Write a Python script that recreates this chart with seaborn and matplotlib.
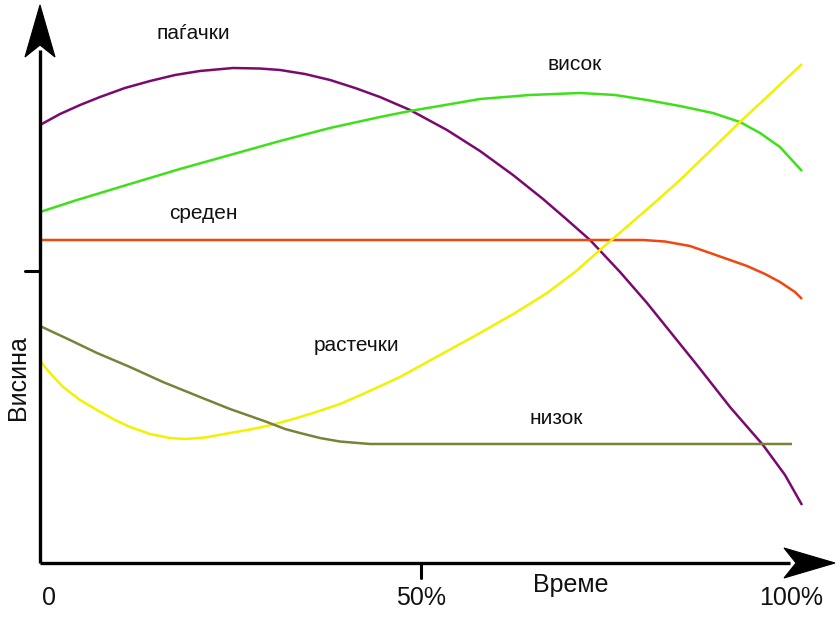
import matplotlib
matplotlib.use("Agg")
import matplotlib.pyplot as plt
from matplotlib.patches import Polygon
import seaborn as sns
import pandas as pd

# ---- data (time in %, height in relative units; tick at 50) ----
pad_x = [0, 2.62, 5.25, 7.87, 11.15, 14.44, 17.72, 21.0, 25.33, 28.87, 31.5, 34.78, 38.06, 41.34,
         44.62, 48.56, 53.41, 57.74, 62.07, 66.01, 68.9, 72.18, 76.12, 79.66, 82.94, 86.22, 90.55,
         94.88, 97.77, 100]
pad_y = [75.0, 76.88, 78.42, 79.79, 81.34, 82.53, 83.56, 84.25, 84.76, 84.67, 84.42, 83.73, 82.71, 81.34,
         79.79, 77.57, 74.14, 70.55, 66.44, 62.33, 59.08, 55.31, 49.83, 44.52, 39.21, 33.90, 26.71,
         20.21, 15.07, 9.93]

vis_x = [0, 4.86, 11.81, 18.37, 24.93, 31.5, 38.06, 44.62, 48.56, 53.15, 57.74, 64.30, 70.87, 75.46,
         79.66, 83.99, 88.32, 91.86, 94.49, 97.11, 100]
vis_y = [60.10, 62.16, 64.90, 67.47, 69.86, 72.26, 74.49, 76.37, 77.40, 78.42, 79.45, 80.14, 80.48, 80.14,
         79.28, 78.25, 77.05, 75.51, 73.63, 71.23, 67.12]

sre_x = [0, 79.13, 82.02, 85.30, 88.32, 92.78, 95.14, 97.11, 99.08, 100]
sre_y = [55.31, 55.31, 55.05, 54.28, 52.91, 50.86, 49.49, 48.12, 46.40, 45.21]

ras_x = [0, 1.31, 3.02, 5.25, 7.48, 9.84, 11.81, 14.44, 17.06, 19.03, 21.65, 24.93, 27.56, 29.79,
         32.81, 35.83, 39.37, 42.39, 47.24, 52.49, 57.74, 62.34, 66.54, 70.21, 73.49, 77.43, 81.36,
         83.99, 87.93, 91.86, 95.80, 100]
ras_y = [34.59, 32.53, 30.14, 27.91, 26.20, 24.49, 23.29, 22.09, 21.40, 21.23, 21.49, 22.26, 22.86, 23.46,
         24.49, 25.68, 27.23, 28.94, 31.85, 35.62, 39.38, 42.81, 46.23, 49.83, 53.60, 58.05, 62.50,
         65.58, 70.55, 75.51, 80.31, 85.45]

niz_x = [0, 3.94, 7.48, 11.81, 16.14, 21.0, 24.93, 27.56, 29.79, 32.15, 34.12, 36.75, 39.37, 43.31, 98.69]
niz_y = [40.58, 38.18, 35.96, 33.56, 30.99, 28.42, 26.37, 25.17, 24.14, 22.95, 22.26, 21.40, 20.80, 20.38, 20.38]

series_names = ["паѓачки", "висок", "среден", "растечки", "низок"]
series_colors = ["#7a0a6e", "#3ee01a", "#f0470f", "#f2f200", "#7a823a"]
x_ticks = [0, 50, 100]
x_tick_labels = ["0", "50%", "100%"]
x_label = "Време"
y_label = "Висина"

frames = []
for name, xs, ys in zip(series_names,
                        [pad_x, vis_x, sre_x, ras_x, niz_x],
                        [pad_y, vis_y, sre_y, ras_y, niz_y]):
    frames.append(pd.DataFrame({"t": xs, "h": ys, "s": name}))
df = pd.concat(frames, ignore_index=True)

sns.set_theme(style="white")
plt.rcParams["font.family"] = ["Liberation Sans", "DejaVu Sans"]

W, H = 840, 617
fig = plt.figure(figsize=(W / 100, H / 100), dpi=100)
fig.patch.set_facecolor("white")
ax = fig.add_axes([0, 0, 1, 1])
ax.set_facecolor("white")

sns.lineplot(data=df, x="t", y="h", hue="s", units="s", estimator=None, sort=False,
             palette=dict(zip(series_names, series_colors)), linewidth=1.8,
             legend=False, ax=ax, zorder=3)
for ln in ax.lines:
    ln.set_solid_joinstyle("round")
    ln.set_solid_capstyle("butt")

# pixel mapping: x=0 -> px 40, 1 unit = 7.62 px ; y=0 -> py 563, 1 unit = 5.84 px
ax.set_xlim(-40 / 7.62, (W - 40) / 7.62)
ax.set_ylim((563 - H) / 5.84, 563 / 5.84)
ax.axis("off")

# axes lines
ax.plot([0, 0], [0, (563 - 50) / 5.84], color="black", lw=2.4, solid_capstyle="butt", zorder=4)
ax.plot([0, (790 - 40) / 7.62], [0, 0], color="black", lw=2.4, solid_capstyle="butt", zorder=4)
# ticks
ax.plot([x_ticks[1], x_ticks[1]], [0, -15 / 5.84], color="black", lw=2.2, zorder=4)
ax.plot([0, -15 / 7.62], [50, 50], color="black", lw=2.2, zorder=4)

# arrow heads (figure pixel coordinates)
def fp(pts):
    return [(x / W, 1 - y / H) for x, y in pts]

fig.patches.append(Polygon(fp([(40, 5), (55, 57), (40, 45), (25, 57)]), closed=True,
                           facecolor="black", edgecolor="black", lw=0.8,
                           transform=fig.transFigure, figure=fig))
fig.patches.append(Polygon(fp([(835, 563), (784, 578), (796, 563), (784, 548)]), closed=True,
                           facecolor="black", edgecolor="black", lw=0.8,
                           transform=fig.transFigure, figure=fig))

tc = "#111111"
# series labels
label_pos = {"паѓачки": (20.1, 90.75), "висок": (70.2, 85.4), "среден": (21.4, 59.9),
             "растечки": (41.6, 37.2), "низок": (67.8, 24.7)}
for name in series_names:
    x, y = label_pos[name]
    ax.text(x, y, name, fontsize=15, color=tc, ha="center", va="center")

# tick labels
tick_x_pos = [1.18, 50, 98.6]
for tx, lab in zip(tick_x_pos, x_tick_labels):
    ax.text(tx, -5.99, lab, fontsize=18, color=tc, ha="center", va="center")

ax.text(69.7, -3.77, x_label, fontsize=18, color=tc, ha="center", va="center")
ax.text(-2.89, 31.8, y_label, fontsize=18, color=tc, ha="center", va="center", rotation=90)

fig.savefig("out.png", dpi=100, facecolor="white")
